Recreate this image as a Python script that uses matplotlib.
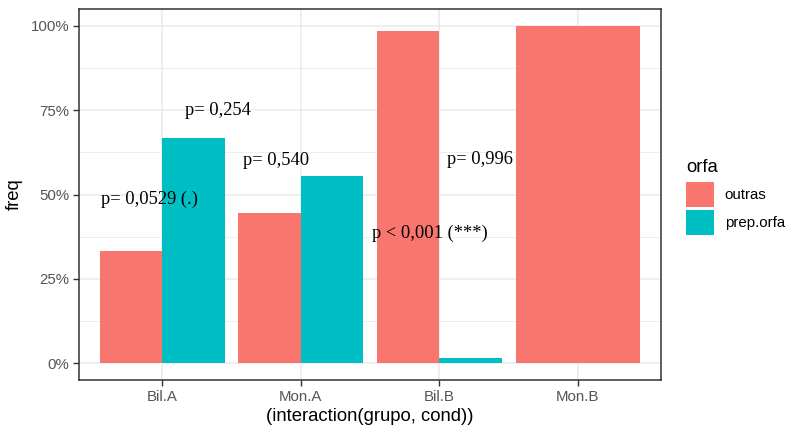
import matplotlib.pyplot as plt
import matplotlib.ticker as mticker
from matplotlib.patches import Patch

# frequencies per interaction(grupo, cond)
categories = ["Bil.A", "Mon.A", "Bil.B", "Mon.B"]
outras = [0.333, 0.444, 0.985, 1.0]
prep_orfa = [0.667, 0.556, 0.015, None]  # Mon.B has no prep.orfa

# p-value annotations: (x, y, text)
annotations = [
    (1.40, 0.748, "p= 0,254"),
    (0.91, 0.485, "p= 0,0529 (.)"),
    (1.82, 0.600, "p= 0,540"),
    (3.29, 0.605, "p= 0,996"),
    (2.93, 0.385, "p < 0,001 (***)"),
]

col_outras = "#F8766D"
col_prep = "#00BFC4"
grid_col = "#EBEBEB"
tick_col = "#555555"

plt.rcParams["font.family"] = ["Liberation Sans", "DejaVu Sans"]

fig = plt.figure(figsize=(7.89, 4.30), dpi=100)
ax = fig.add_axes([79 / 789, 50 / 430, 582 / 789, 371 / 430])

x = [1, 2, 3, 4]
w = 0.45
for xi, o, p in zip(x, outras, prep_orfa):
    if p is None:
        ax.bar(xi, o, width=2 * w, color=col_outras, zorder=2)
    else:
        ax.bar(xi - w / 2, o, width=w, color=col_outras, zorder=2)
        ax.bar(xi + w / 2, p, width=w, color=col_prep, zorder=2)

for tx, ty, s in annotations:
    ax.text(tx, ty, s, ha="center", va="center", fontsize=13.3,
            family="Liberation Serif", color="black", zorder=3)

ax.set_xlim(0.4, 4.6)
ax.set_ylim(-0.05, 1.05)
ax.set_xticks(x)
ax.set_xticklabels(categories)
ax.yaxis.set_major_locator(mticker.FixedLocator([0, 0.25, 0.5, 0.75, 1.0]))
ax.yaxis.set_minor_locator(mticker.FixedLocator([0.125, 0.375, 0.625, 0.875]))
ax.yaxis.set_major_formatter(mticker.FuncFormatter(lambda v, _: f"{v * 100:.0f}%"))

ax.grid(True, which="major", color=grid_col, linewidth=1.1, zorder=0)
ax.grid(True, which="minor", axis="y", color=grid_col, linewidth=0.6, zorder=0)
ax.set_axisbelow(True)

for sp in ax.spines.values():
    sp.set_color("#333333")
    sp.set_linewidth(1.1)

ax.tick_params(axis="both", which="major", length=4, width=1.0, color="#333333",
               labelcolor=tick_col, labelsize=10.8, pad=3)
ax.tick_params(axis="y", which="minor", length=0)

ax.set_xlabel("(interaction(grupo, cond))", fontsize=13.3, color="black", labelpad=3)
ax.set_ylabel("freq", fontsize=13.3, color="black", labelpad=6)

handles = [Patch(facecolor=col_outras, label="outras"),
           Patch(facecolor=col_prep, label="prep.orfa")]
leg = fig.legend(handles=handles, title="orfa", loc="upper left",
                 bbox_to_anchor=(686 / 789, 1 - 159 / 430), frameon=False,
                 fontsize=10.8, title_fontsize=13.3, handlelength=1.87,
                 handleheight=2.2, labelspacing=0.2, handletextpad=0.7,
                 borderpad=0, borderaxespad=0, alignment="left")
leg._legend_box.sep = 4

fig.savefig("out.png", dpi=100)
